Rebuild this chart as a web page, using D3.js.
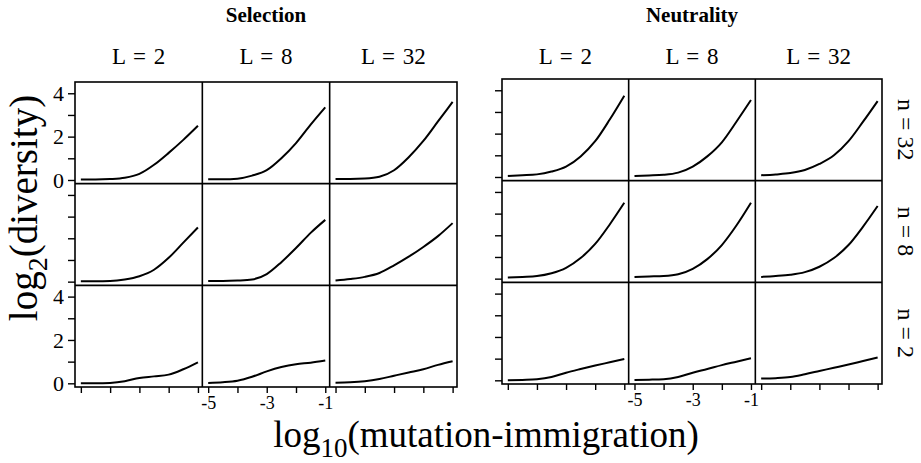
<!DOCTYPE html>
<html>
<head>
<meta charset="utf-8">
<script src="https://cdn.jsdelivr.net/npm/d3@7"></script>
<style>
  body { margin: 0; background: #fff; }
  svg { display: block; font-family: "Liberation Serif", "Times New Roman", serif; }
</style>
</head>
<body>
<script>

// categories
var regimes = ["Selection", "Neutrality"];
var genomeLengths = [2, 8, 32];   // columns (L)
var popSizes = [32, 8, 2];        // rows (n)

// x values of every curve, log10(mutation-immigration)
var logMu = [-5, -4.5, -4, -3.5, -3, -2.5, -2, -1.5, -1];

// tick values and labels
var xTicks = [-5, -4, -3, -2, -1];
var xTickLabels = [-5, -3, -1];
var yTicks = [0, 1, 2, 3, 4];
var yTickLabels = [0, 2, 4];

// log2(diversity), one curve per L: [L=2, L=8, L=32]
var selN32 = [
  [0.02, 0.02, 0.04, 0.1, 0.28, 0.7, 1.25, 1.85, 2.5],
  [0.03, 0.03, 0.06, 0.2, 0.45, 1.0, 1.7, 2.55, 3.35],
  [0.05, 0.05, 0.07, 0.15, 0.45, 1.05, 1.8, 2.7, 3.6]
];
var selN8 = [
  [0.02, 0.02, 0.03, 0.1, 0.25, 0.55, 1.1, 1.8, 2.5],
  [0.03, 0.03, 0.05, 0.1, 0.35, 0.9, 1.55, 2.25, 2.85],
  [0.05, 0.12, 0.22, 0.4, 0.75, 1.15, 1.6, 2.1, 2.7]
];
var selN2 = [
  [0.0, 0.0, 0.02, 0.1, 0.25, 0.32, 0.4, 0.65, 0.97],
  [0.02, 0.05, 0.12, 0.3, 0.55, 0.75, 0.88, 0.95, 1.05],
  [0.03, 0.05, 0.1, 0.2, 0.35, 0.5, 0.65, 0.85, 1.02]
];
var neuN32 = [
  [0.05, 0.08, 0.12, 0.25, 0.48, 0.95, 1.65, 2.65, 3.75],
  [0.05, 0.07, 0.1, 0.2, 0.48, 0.95, 1.6, 2.55, 3.55],
  [0.08, 0.12, 0.18, 0.32, 0.6, 1.0, 1.65, 2.55, 3.5]
];
var neuN8 = [
  [0.05, 0.08, 0.12, 0.25, 0.5, 0.95, 1.6, 2.5, 3.5],
  [0.08, 0.1, 0.12, 0.2, 0.45, 0.9, 1.55, 2.45, 3.5],
  [0.08, 0.12, 0.18, 0.3, 0.55, 0.95, 1.55, 2.4, 3.35]
];
var neuN2 = [
  [0.0, 0.02, 0.05, 0.15, 0.35, 0.52, 0.68, 0.83, 0.98],
  [0.02, 0.03, 0.05, 0.15, 0.35, 0.52, 0.7, 0.86, 1.02],
  [0.08, 0.1, 0.15, 0.28, 0.43, 0.58, 0.73, 0.89, 1.05]
];

var panels = [
  [selN32, selN8, selN2],
  [neuN32, neuN8, neuN2]
];

// layout
var width = 921, height = 463;
var blocks = [
  {x: 75, y: 82, w: 382, h: 305, labels: true},
  {x: 502, y: 79, w: 380, h: 305, labels: false}
];

var svg = d3.select('body').append('svg')
  .attr('width', width)
  .attr('height', height);

blocks.forEach(function(b, bi) {
  var colW = b.w / 3, rowH = b.h / 3;

  var x = d3.scaleLinear().domain([-5.2, -0.85]).range([0, colW]);
  var y = d3.scaleLinear().domain([-0.17, 4.52]).range([rowH, 0]);

  var line = d3.line()
    .x(function(d, i) { return x(logMu[i]); })
    .y(function(d) { return y(d); })
    .curve(d3.curveMonotoneX);

  var g = svg.append('g').attr('transform', 'translate(' + b.x + ',' + b.y + ')');

  // curves
  panels[bi].forEach(function(row, r) {
    row.forEach(function(vals, c) {
      g.append('path')
        .datum(vals)
        .attr('transform', 'translate(' + (c * colW) + ',' + (r * rowH) + ')')
        .attr('d', line)
        .attr('fill', 'none')
        .attr('stroke', '#000')
        .attr('stroke-width', 2);
    });
  });

  // frame and dividers
  g.append('rect')
    .attr('width', b.w).attr('height', b.h)
    .attr('fill', 'none').attr('stroke', '#000').attr('stroke-width', 1.6);
  [1, 2].forEach(function(k) {
    g.append('line').attr('x1', k * colW).attr('x2', k * colW).attr('y1', 0).attr('y2', b.h)
      .attr('stroke', '#000').attr('stroke-width', 1.6);
    g.append('line').attr('x1', 0).attr('x2', b.w).attr('y1', k * rowH).attr('y2', k * rowH)
      .attr('stroke', '#000').attr('stroke-width', 1.6);
  });

  // y axes, labels only on the outer rows of the left block
  popSizes.forEach(function(n, r) {
    var showLabels = b.labels && r !== 1;
    var ax = g.append('g')
      .attr('transform', 'translate(0,' + (r * rowH) + ')')
      .call(d3.axisLeft(y).tickValues(yTicks).tickSize(7).tickPadding(4)
        .tickFormat(function(d) { return showLabels && yTickLabels.indexOf(d) >= 0 ? d : ''; }));
    ax.select('.domain').remove();
    ax.selectAll('line').attr('stroke-width', 1.4);
    ax.selectAll('text').attr('font-size', 22).attr('font-family', 'Liberation Serif').attr('fill', '#000');
  });

  // x axes, labels only under the middle column
  genomeLengths.forEach(function(L, c) {
    var ax = g.append('g')
      .attr('transform', 'translate(' + (c * colW) + ',' + b.h + ')')
      .call(d3.axisBottom(x).tickValues(xTicks).tickSize(6).tickPadding(3)
        .tickFormat(function(d) { return c === 1 && xTickLabels.indexOf(d) >= 0 ? d : ''; }));
    ax.select('.domain').remove();
    ax.selectAll('line').attr('stroke-width', 1.4);
    ax.selectAll('text').attr('font-size', 18).attr('font-family', 'Liberation Serif').attr('fill', '#000');

    // column titles
    svg.append('text')
      .attr('x', b.x + (c + 0.5) * colW)
      .attr('y', 64)
      .attr('text-anchor', 'middle')
      .attr('font-size', 23)
      .attr('word-spacing', 2)
      .text('L = ' + L);
  });

  // regime title
  svg.append('text')
    .attr('x', b.x + b.w / 2)
    .attr('y', 22)
    .attr('text-anchor', 'middle')
    .attr('font-size', 21)
    .attr('font-weight', 'bold')
    .text(regimes[bi]);
});

// row labels on the right
var rb = blocks[1];
popSizes.forEach(function(n, r) {
  var cy = rb.y + (r + 0.5) * rb.h / 3;
  svg.append('text')
    .attr('transform', 'translate(898,' + cy + ') rotate(90)')
    .attr('text-anchor', 'middle')
    .attr('font-size', 24)
    .text('n = ' + n);
});

// axis titles
var yt = svg.append('text')
  .attr('transform', 'translate(37,208) rotate(-90)')
  .attr('text-anchor', 'middle')
  .attr('font-size', 39);
yt.append('tspan').text('log');
yt.append('tspan').attr('dy', 10).attr('font-size', 28).text('2');
yt.append('tspan').attr('dy', -10).text('(diversity)');

var xt = svg.append('text')
  .attr('x', 486)
  .attr('y', 447)
  .attr('text-anchor', 'middle')
  .attr('font-size', 37);
xt.append('tspan').text('log');
xt.append('tspan').attr('dy', 10).attr('font-size', 27).text('10');
xt.append('tspan').attr('dy', -10).text('(mutation-immigration)');

</script>
</body>
</html>
